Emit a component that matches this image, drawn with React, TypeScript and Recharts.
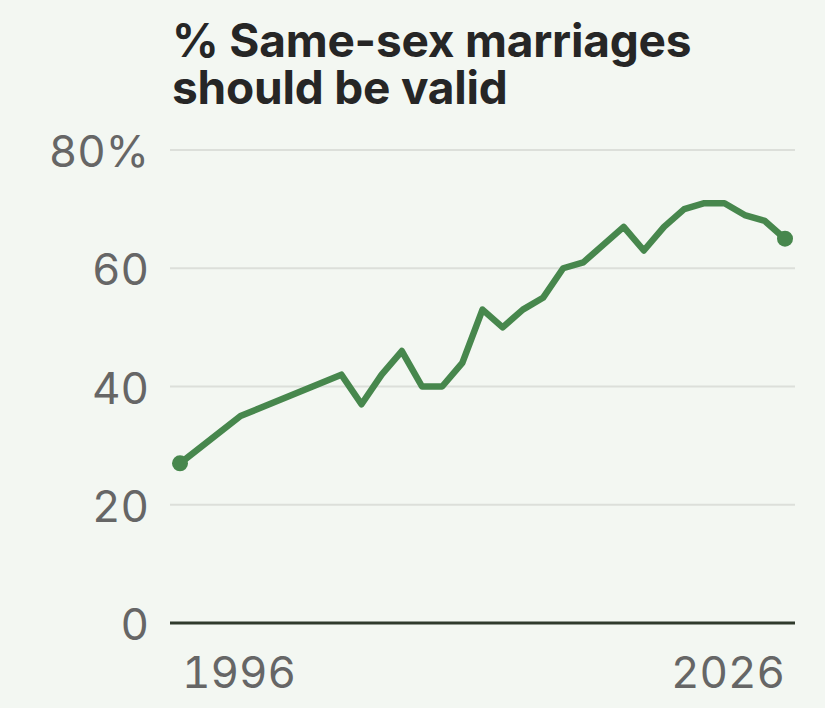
import { LineChart, Line, XAxis, YAxis, CartesianGrid } from 'recharts'

const years = [1996, 1999, 2004, 2005, 2006, 2007, 2008, 2009, 2010, 2011, 2012, 2013, 2014, 2015, 2016, 2017, 2018, 2019, 2020, 2021, 2022, 2023, 2024, 2025, 2026]
const support = [27, 35, 42, 37, 42, 46, 40, 40, 44, 53, 50, 53, 55, 60, 61, 64, 67, 63, 67, 70, 71, 71, 69, 68, 65]
const yTicks = [0, 20, 40, 60, 80]
const xTicks = [1996, 2026]
const titleLines = ['% Same-sex marriages', 'should be valid']

const data = years.map((year, i) => ({ year, value: support[i] }))

const BG = '#f3f7f2'
const GREEN = '#47874d'
const TICK = '#666666'
const FONT = 'Inter, "Noto Sans", sans-serif'

function YTick(props: any) {
    const { x, y, payload } = props
    const label = payload.value === 80 ? '80%' : String(payload.value)
    return (
        <text
            x={x}
            y={y + 1}
            textAnchor="end"
            dominantBaseline="central"
            fontFamily={FONT}
            fontSize={44}
            fill={TICK}
            style={{ fontVariantNumeric: 'tabular-nums' }}
        >
            {label}
        </text>
    )
}

function XTick(props: any) {
    const { x, y, payload, index } = props
    const first = index === 0
    return (
        <text
            x={first ? x + 2 : x}
            y={y}
            textAnchor={first ? 'start' : 'end'}
            dominantBaseline="central"
            fontFamily={FONT}
            fontSize={44}
            fill={TICK}
            style={{ fontVariantNumeric: 'tabular-nums' }}
        >
            {payload.value}
        </text>
    )
}

// Dots only on the first and last point
function EndDot(props: any) {
    const { cx, cy, index } = props
    if (index !== 0 && index !== data.length - 1) return <g key={index} />
    return <circle key={index} cx={cx} cy={cy} r={8} fill={GREEN} />
}

export default function App() {
    return (
        <div style={{ position: 'absolute', left: 0, top: 0, width: 825, height: 708, background: BG, overflow: 'hidden' }}>
            {titleLines.map((line, i) => (
                <div
                    key={line}
                    style={{
                        position: 'absolute',
                        left: 172,
                        top: 17 + i * 47,
                        height: 47,
                        fontFamily: FONT,
                        fontWeight: 700,
                        fontSize: 46,
                        lineHeight: '47px',
                        color: '#262626',
                        letterSpacing: '-0.2px',
                        whiteSpace: 'nowrap',
                    }}
                >
                    {line}
                </div>
            ))}
            <LineChart width={825} height={708} data={data} margin={{ top: 150, right: 30, bottom: 55, left: 0 }}>
                <CartesianGrid vertical={false} stroke="#dcdfda" strokeWidth={2} />
                <XAxis
                    dataKey="year"
                    type="number"
                    domain={[1996, 2026]}
                    ticks={xTicks}
                    padding={{ left: 10, right: 10 }}
                    height={30}
                    tickLine={false}
                    tickSize={0}
                    tickMargin={49}
                    axisLine={{ stroke: '#2f3a2c', strokeWidth: 3 }}
                    tick={<XTick />}
                    interval={0}
                />
                <YAxis
                    domain={[0, 80]}
                    ticks={yTicks}
                    width={170}
                    tickLine={false}
                    tickSize={0}
                    tickMargin={21}
                    axisLine={false}
                    tick={<YTick />}
                    interval={0}
                />
                <Line
                    type="linear"
                    dataKey="value"
                    stroke={GREEN}
                    strokeWidth={6.5}
                    strokeLinejoin="round"
                    dot={<EndDot />}
                    activeDot={false}
                    isAnimationActive={false}
                />
            </LineChart>
        </div>
    )
}
